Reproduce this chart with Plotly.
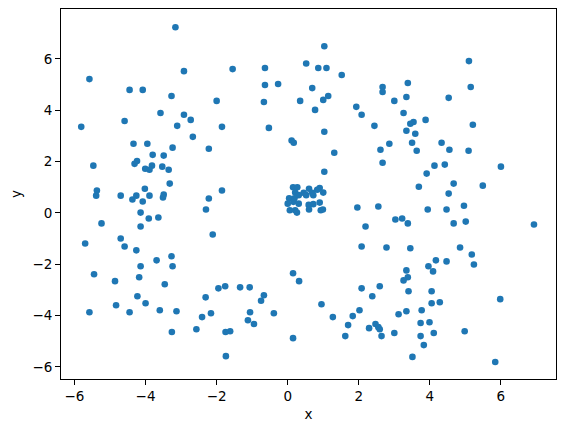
import plotly.graph_objects as go

x_vals = [
    -3.16, 1.03, 0.52, 0.86, 1.09, -0.64, -1.55, -2.92, -5.58, 5.10,
    1.52, -0.27, -0.64, 3.38, 2.67, 2.67, 5.15, -4.45, -4.08, 0.69,
    -3.27, 1.14, 1.00, 3.34, 4.53, -2.00, -0.67, 0.35, 3.00, 1.93,
    0.77, -3.58, 2.08, 3.26, -2.92, -2.73, -4.59, 3.88, -5.81, -3.11,
    -1.85, 2.44, 3.54, 3.45, 5.21, -0.53, 3.34, 1.03, 3.59, -2.67,
    0.11, 0.17, -4.34, -3.95, 2.86, 3.50, 4.33, -3.24, -2.22, 2.61,
    4.55, 3.63, 5.09, 1.31, -3.80, -3.49, -4.24, -4.31, 2.67, -5.47,
    -3.82, -3.53, 4.13, 4.42, 6.00, -4.01, -3.89, -3.35, 1.03, 3.91,
    -3.32, 4.67, 5.49, 3.69, -1.85, -4.02, -5.37, -5.39, -4.70, -4.26,
    -3.89, -3.49, -3.51, 4.53, -4.37, -4.08, -2.22, -2.30, 3.94, 4.47,
    4.96, 1.96, 2.55, -4.14, -3.91, -3.64, -5.24, 3.03, 3.22, 3.38,
    5.01, 4.67, 6.93, -4.14, 2.19, -2.11, -4.70, -5.70, -4.59, 2.08,
    2.78, 3.45, 4.85, -4.26, 5.18, -3.27, -3.69, 4.17, 4.47, 5.24,
    -4.14, -3.24, 3.96, 3.34, 4.09, -5.45, 0.15, -4.18, 3.38, 3.26,
    0.32, -4.86, -3.46, 2.59, -1.76, -1.95, -1.34, -1.07, 2.08, 3.40,
    4.05, -0.67, -4.23, -2.31, 2.38, 5.98, -0.75, 4.28, -4.00, 4.05,
    -4.83, 0.95, -3.60, 3.77, 2.02, -3.13, 3.34, -5.58, -4.45, -1.06,
    -2.16, -0.39, 3.12, 1.83, 1.27, -2.41, -1.12, -0.95, 3.74, 3.99,
    1.70, 2.47, 2.55, 2.29, 2.59, -2.57, -1.62, -1.75, -3.26, 3.00,
    4.11, 4.98, 1.62, 2.64, 3.74, 0.15, 3.83, -1.74, 3.51, 5.84,
    0.15, 0.27, 0.60, 0.90, 0.83, 0.21, 0.45, 0.69, 1.00, 0.31,
    0.52, 0.72, 0.04, 0.19, 0.00, 0.16, 0.31, 0.59, 0.90, 0.72,
    0.06, 0.21, 0.26, 0.60, 0.93, 0.99,
]

y_vals = [
    7.23, 6.49, 5.82, 5.64, 5.64, 5.64, 5.60, 5.52, 5.21, 5.91,
    5.37, 5.02, 4.98, 5.06, 4.90, 4.71, 4.90, 4.79, 4.79, 4.86,
    4.55, 4.55, 4.40, 4.51, 4.48, 4.36, 4.32, 4.36, 4.36, 4.13,
    4.01, 3.89, 3.82, 3.89, 3.82, 3.62, 3.58, 3.62, 3.35, 3.39,
    3.35, 3.39, 3.54, 3.47, 3.43, 3.31, 3.20, 3.16, 3.08, 2.96,
    2.82, 2.73, 2.69, 2.69, 2.69, 2.73, 2.73, 2.54, 2.50, 2.46,
    2.46, 2.42, 2.42, 2.34, 2.26, 2.23, 2.02, 1.91, 1.95, 1.84,
    1.84, 1.80, 1.84, 1.88, 1.80, 1.72, 1.68, 1.68, 1.60, 1.53,
    1.14, 1.14, 1.06, 1.02, 0.87, 0.94, 0.87, 0.67, 0.67, 0.67,
    0.67, 0.71, 0.60, 0.75, 0.52, 0.44, 0.56, 0.13, 0.13, 0.13,
    0.28, 0.21, 0.25, 0.01, -0.22, -0.18, -0.41, -0.26, -0.22, -0.41,
    -0.34, -0.41, -0.45, -0.53, -0.53, -0.84, -1.00, -1.19, -1.31, -1.31,
    -1.35, -1.38, -1.35, -1.46, -1.62, -1.69, -1.85, -1.85, -1.89, -2.01,
    -2.08, -2.08, -2.08, -2.24, -2.28, -2.39, -2.35, -2.51, -2.51, -2.63,
    -2.66, -2.66, -2.78, -2.86, -2.86, -2.94, -2.90, -2.90, -2.94, -3.05,
    -3.05, -3.21, -3.25, -3.29, -3.25, -3.36, -3.42, -3.48, -3.52, -3.52,
    -3.60, -3.56, -3.79, -3.79, -3.79, -3.83, -3.83, -3.87, -3.87, -3.87,
    -3.91, -3.91, -3.95, -4.02, -4.06, -4.06, -4.18, -4.33, -4.29, -4.26,
    -4.37, -4.33, -4.45, -4.49, -4.53, -4.53, -4.61, -4.64, -4.64, -4.68,
    -4.68, -4.61, -4.80, -4.80, -4.80, -4.88, -5.15, -5.58, -5.61, -5.81,
    1.00, 1.00, 0.94, 0.97, 0.90, 0.79, 0.78, 0.78, 0.79, 0.69,
    0.69, 0.69, 0.57, 0.57, 0.36, 0.43, 0.36, 0.31, 0.40, 0.34,
    0.10, 0.10, 0.01, 0.13, 0.10, 0.13,
]

x_ticks = [-6, -4, -2, 0, 2, 4, 6]
y_ticks = [-6, -4, -2, 0, 2, 4, 6]

fig = go.Figure(
    go.Scatter(
        x=x_vals, y=y_vals, mode="markers",
        marker=dict(size=6.6, color="#1f77b4", line=dict(width=0)),
    )
)

axis_common = dict(
    showgrid=False, zeroline=False, showline=True, linecolor="black",
    linewidth=1, mirror=True, ticks="outside", ticklen=5, tickwidth=1,
    tickcolor="black", automargin=False,
    tickfont=dict(family="DejaVu Sans", size=13.5, color="black"),
)

# page body has an 8px default margin; figure sized/margined to compensate
fig.update_layout(
    width=557, height=424,
    margin=dict(l=53, r=9, t=1, b=53),
    paper_bgcolor="white", plot_bgcolor="white",
    showlegend=False,
    font=dict(family="DejaVu Sans", color="black"),
    xaxis=dict(range=[-6.38, 7.55], tickvals=x_ticks,
               title=dict(text="x", font=dict(size=13.5), standoff=6), **axis_common),
    yaxis=dict(range=[-6.47, 7.94], tickvals=y_ticks,
               title=dict(text="y", font=dict(size=13.5), standoff=8), **axis_common),
)

fig.write_html("out.html")
